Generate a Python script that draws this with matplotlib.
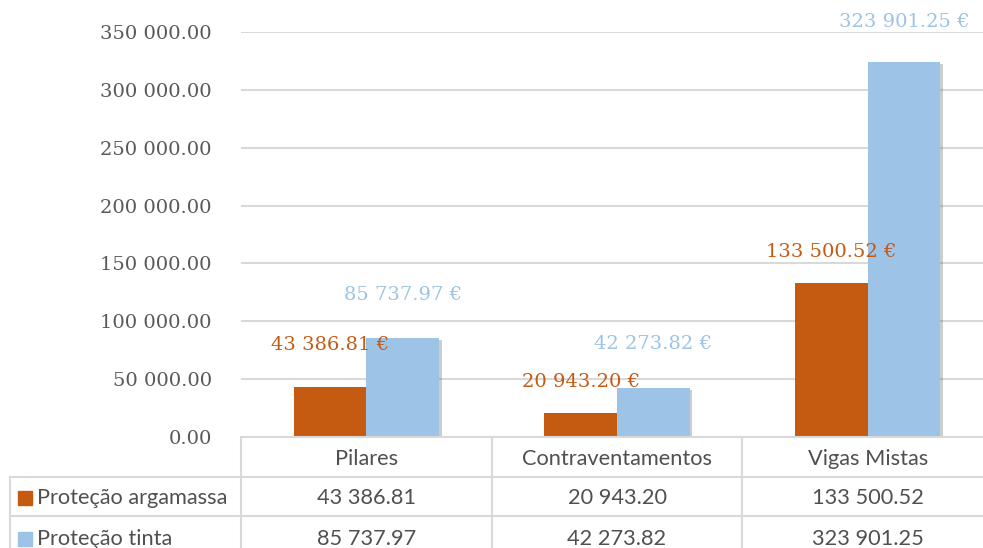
import matplotlib.pyplot as plt
import matplotlib.transforms as mtransforms
import matplotlib.patheffects as pe
import numpy as np

categories = ["Pilares", "Contraventamentos", "Vigas Mistas"]
series_names = ["Proteção argamassa", "Proteção tinta"]
argamassa = [43386.81, 20943.20, 133500.52]
tinta = [85737.97, 42273.82, 323901.25]
yticks = [0, 50000, 100000, 150000, 200000, 250000, 300000, 350000]

colors = ["#C55A11", "#9DC3E6"]
# label distance above each bar top, in points
label_offsets = [[30, 22, 22], [31, 32, 29]]
grid_col = "#D9D9D9"
text_col = "#595959"


def fmt(v):
    return f"{v:,.2f}".replace(",", " ")


W, H = 983, 548
fig = plt.figure(figsize=(W / 100, H / 100), dpi=100)

# plot area in pixels (runs a little past the right edge)
left, right, top, bottom = 241, 993, 32, 437
ax = fig.add_axes([left / W, 1 - bottom / H, (right - left) / W, (bottom - top) / H])

x = np.arange(len(categories))
bw = 0.29
shadow = [pe.SimplePatchShadow(offset=(2, -1.5), shadow_rgbFace="#707070", alpha=0.35), pe.Normal()]
for k, vals in enumerate([argamassa, tinta]):
    xs = x + (k - 0.5) * bw
    bars = ax.bar(xs, vals, width=bw, color=colors[k], zorder=3)
    for b in bars:
        b.set_path_effects(shadow)
    for xi, v, off in zip(xs, vals, label_offsets[k]):
        ax.annotate(fmt(v) + " €", (xi, v), xytext=(0, off),
                    textcoords="offset points", ha="center", va="center",
                    color=colors[k], fontsize=14, family="DejaVu Serif",
                    annotation_clip=False, zorder=4)

ax.set_xlim(-0.5, len(categories) - 0.5)
ax.set_ylim(0, 350000)
ax.set_yticks(yticks)
ax.set_yticklabels([fmt(t) for t in yticks], family="DejaVu Serif", fontsize=14, color=text_col)
ax.tick_params(axis="y", length=0, pad=21)
ax.tick_params(axis="x", bottom=False, labelbottom=False)
ax.grid(axis="y", color=grid_col, lw=1.5, zorder=0)
for s in ax.spines.values():
    s.set_visible(False)

# data table underneath, columns follow the category axis
tr = mtransforms.blended_transform_factory(ax.transData, fig.transFigure)
fy = lambda py: 1 - py / H
fx = lambda px: px / W
row_y = [437, 477, 516, 560]
col_x = [-0.5, 0.5, 1.5, 2.5]
lc = dict(color=grid_col, lw=1.5, clip_on=False)

# horizontal lines
fig.add_artist(plt.Line2D([-0.5, 2.5], [fy(row_y[0])] * 2, transform=tr, **lc))
for py in row_y[1:3]:
    fig.add_artist(plt.Line2D([fx(10), fx(right)], [fy(py)] * 2, transform=fig.transFigure, **lc))
# vertical lines
for cx in col_x:
    fig.add_artist(plt.Line2D([cx, cx], [fy(row_y[0]), fy(row_y[3])], transform=tr, **lc))
fig.add_artist(plt.Line2D([fx(10), fx(10)], [fy(row_y[1]), fy(row_y[3])], transform=fig.transFigure, **lc))

tfont = dict(family="Lato", fontsize=15.7, color="#505050")
for i, c in enumerate(categories):
    fig.text(i, fy((row_y[0] + row_y[1]) / 2 + 2), c, transform=tr, ha="center", va="center", **tfont)
for r, (name, vals) in enumerate(zip(series_names, [argamassa, tinta])):
    yc = fy((row_y[r + 1] + row_y[r + 2]) / 2 + 1)
    fig.add_artist(plt.Rectangle((fx(18), yc - 7 / H), 14 / W, 14 / H, color=colors[r],
                                 transform=fig.transFigure))
    fig.text(fx(37), yc, name, ha="left", va="center", **tfont)
    for i, v in enumerate(vals):
        fig.text(i, yc, fmt(v), transform=tr, ha="center", va="center", **tfont)

fig.savefig("out.png", dpi=100)
